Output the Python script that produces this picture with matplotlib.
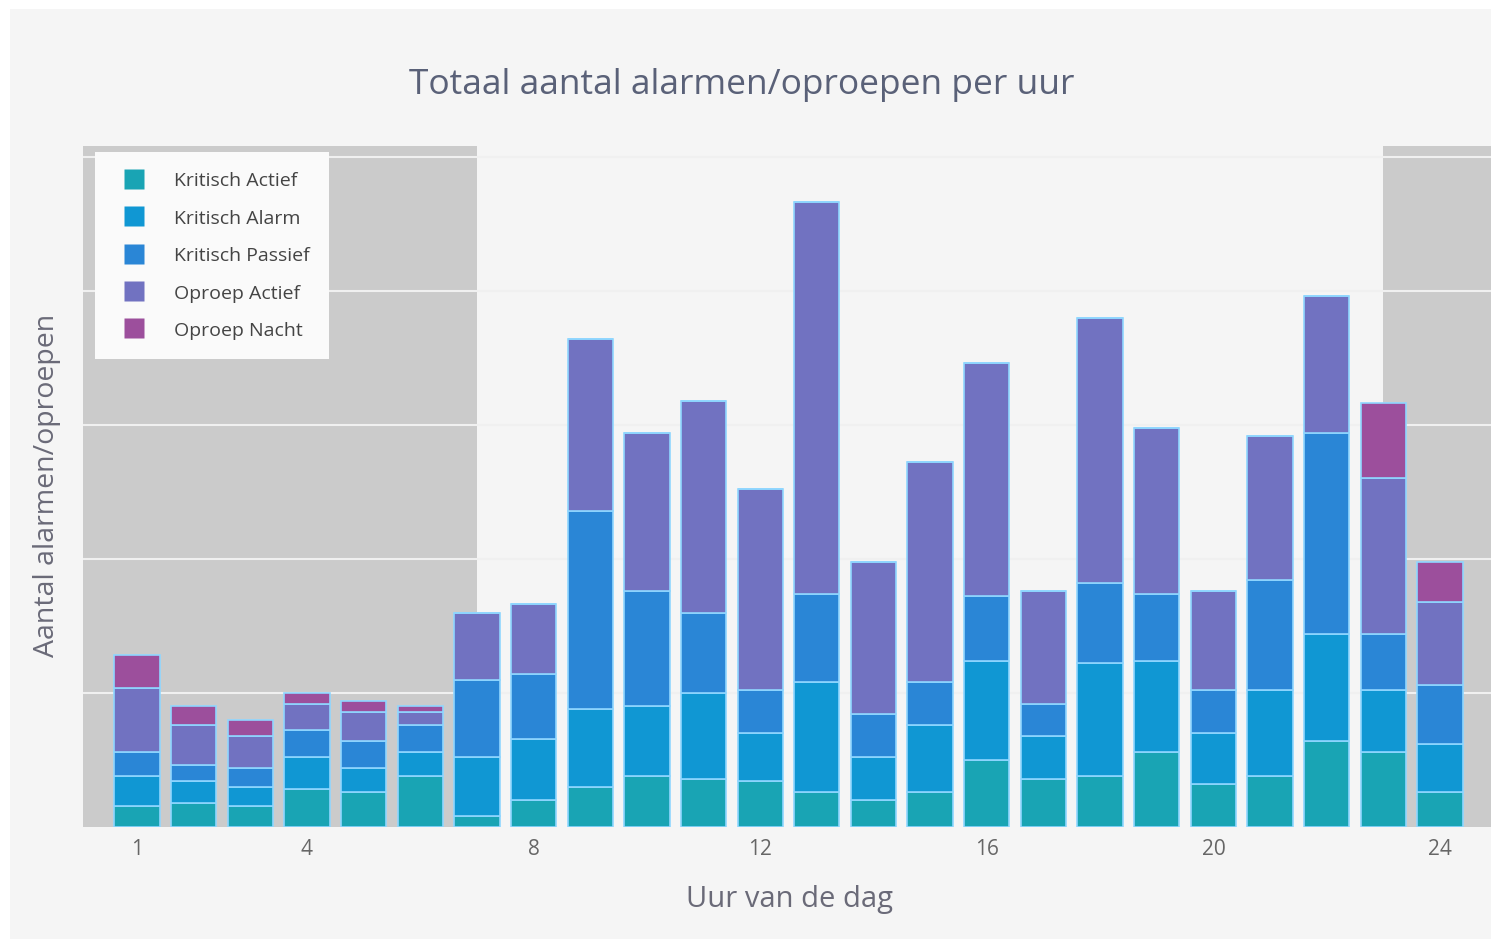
import numpy as np
import matplotlib.pyplot as plt
from matplotlib.patches import Rectangle
from matplotlib.lines import Line2D

plt.rcParams['font.family'] = ['Open Sans', 'DejaVu Sans']

hours = np.arange(1, 25)
series = ['Kritisch Actief', 'Kritisch Alarm', 'Kritisch Passief', 'Oproep Actief', 'Oproep Nacht']
colors = ['#19a4b4', '#1097d3', '#2a86d6', '#7172c1', '#9c4f9c']

kritisch_actief  = [8, 9, 8, 14, 13, 19, 4, 10, 15, 19, 18, 17, 13, 10, 13, 25, 18, 19, 28, 16, 19, 32, 28, 13]
kritisch_alarm   = [11, 8, 7, 12, 9, 9, 22, 23, 29, 26, 32, 18, 41, 16, 25, 37, 16, 42, 34, 19, 32, 40, 23, 18]
kritisch_passief = [9, 6, 7, 10, 10, 10, 29, 24, 74, 43, 30, 16, 33, 16, 16, 24, 12, 30, 25, 16, 41, 75, 21, 22]
oproep_actief    = [24, 15, 12, 10, 11, 5, 25, 26, 64, 59, 79, 75, 146, 57, 82, 87, 42, 99, 62, 37, 54, 51, 58, 31]
oproep_nacht     = [12, 7, 6, 4, 4, 2, 0, 0, 0, 0, 0, 0, 0, 0, 0, 0, 0, 0, 0, 0, 0, 0, 28, 15]

data = [kritisch_actief, kritisch_alarm, kritisch_passief, oproep_actief, oproep_nacht]
xticks = [1, 4, 8, 12, 16, 20, 24]

fig = plt.figure(figsize=(14.91, 9.45), dpi=100, facecolor='white')
fig.patches.append(Rectangle((10/1491, 5/945), 1, 1 - 15/945, transform=fig.transFigure,
                             facecolor='#f5f5f5', edgecolor='none', zorder=-10))
ax = fig.add_axes([83/1491, 1 - 828/945, 1 - 83/1491, (828 - 147)/945])
ax.set_facecolor('#f5f5f5')

# night hours shading
ax.axvspan(0, 7, color='#cbcbcb', zorder=0.2, lw=0)
ax.axvspan(23, 26, color='#cbcbcb', zorder=0.2, lw=0)

bottom = np.zeros(len(hours))
for name, vals, c in zip(series, data, colors):
    vals = np.array(vals, dtype=float)
    ax.bar(hours, vals, width=0.8, bottom=bottom, color=c, edgecolor='#8fd6ff',
           linewidth=1.2, label=name, zorder=2)
    bottom += vals

ax.set_xlim(0.047, 24.9)
ax.set_ylim(0, 254)
ax.set_yticks([50, 100, 150, 200, 250])
ax.set_yticklabels([])
ax.tick_params(axis='y', length=0)
ax.grid(axis='y', color='#f0f0f0', linewidth=1.5)
ax.set_axisbelow(True)
ax.set_xticks(xticks)
ax.tick_params(axis='x', length=0, pad=8, labelsize=15, labelcolor='#666666')
for s in ax.spines.values():
    s.set_visible(False)

fig.text(742/1491, 1 - 85/945, 'Totaal aantal alarmen/oproepen per uur', ha='center', va='center',
         fontsize=25.5, color='#5a6178')
fig.text(789/1491, 1 - 900/945, 'Uur van de dag', ha='center', va='center',
         fontsize=21, color='#6a6a78')
fig.text(47/1491, 1 - 485/945, 'Aantal alarmen/oproepen', ha='center', va='center',
         rotation=90, fontsize=20.5, color='#6a6a78')

handles = [Line2D([], [], marker='s', markersize=15, linestyle='none', color=c,
                  markeredgecolor='none') for c in colors]
leg = ax.legend(handles, series, loc='upper left', bbox_to_anchor=(12/1408, 1 - 6/681),
                frameon=True, fancybox=False, framealpha=1, facecolor='#fafafa',
                edgecolor='none', fontsize=14, handlelength=2.05, labelspacing=1.0,
                borderpad=1.0, handletextpad=1.0, borderaxespad=0)
for t in leg.get_texts():
    t.set_color('#444444')

fig.savefig('out.png', dpi=100)
